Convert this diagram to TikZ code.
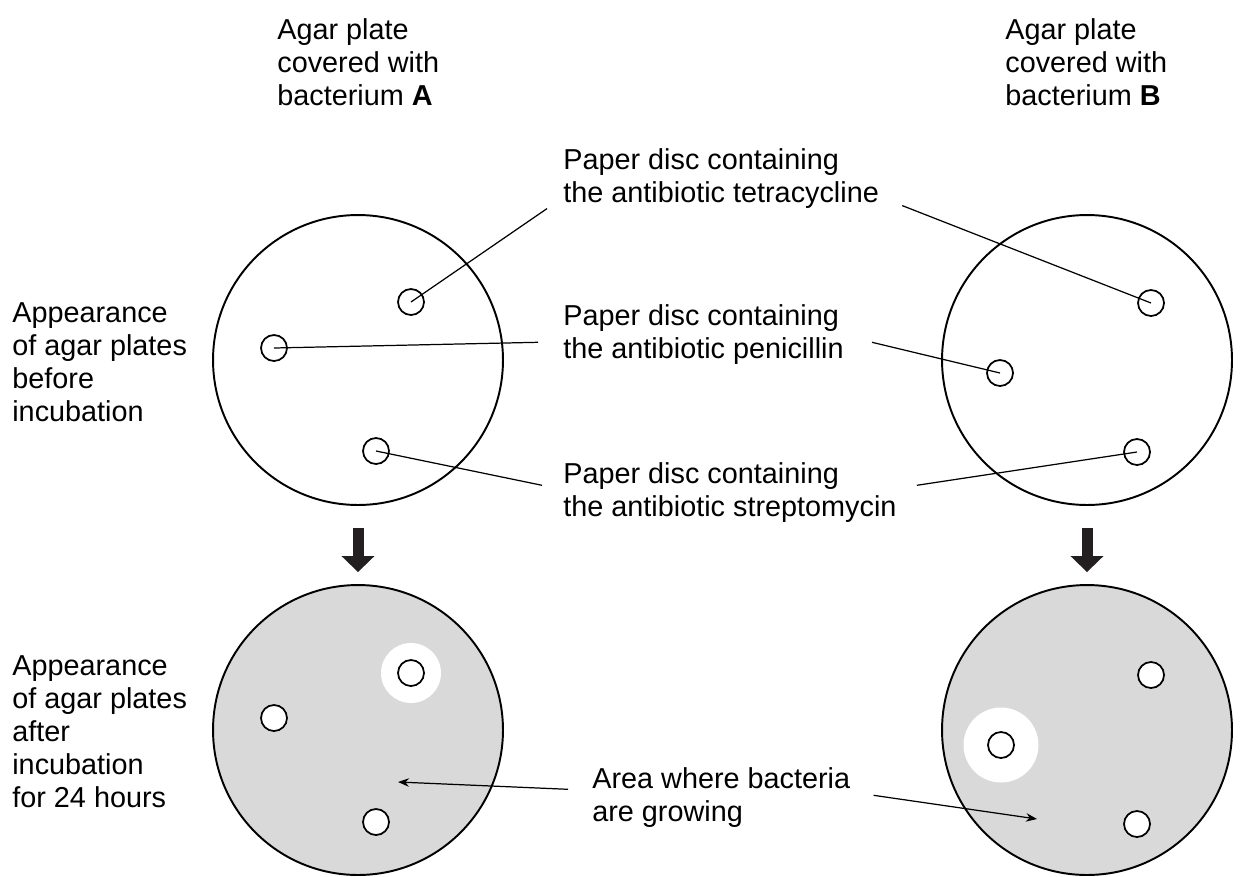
\documentclass[tikz,border=0pt]{standalone}
\usepackage{fontspec}
\setmainfont{Liberation Sans}
\usetikzlibrary{arrows.meta}
\definecolor{agargrey}{HTML}{D9D9D9}
\definecolor{arrowdark}{HTML}{231F20}

\begin{document}
\begin{tikzpicture}[x=0.02cm, y=-0.02cm,
    plate/.style={circle, draw, line width=1.1pt, minimum size=5.8cm, inner sep=0pt},
    disc/.style={circle, draw, line width=1pt, fill=white, minimum size=0.52cm, inner sep=0pt},
    halo/.style={circle, fill=white, inner sep=0pt},
    txt/.style={anchor=north west, align=left, inner sep=0pt, font=\fontsize{16.4}{18.8}\selectfont},
    pointer/.style={line width=0.7pt},
    growth/.style={line width=0.7pt, -{Stealth[length=0.22cm,width=0.17cm]}},
    incubate/.style={line width=0.22cm, arrowdark, -{Triangle[length=0.32cm,width=0.64cm]},
        shorten <=0.44cm, shorten >=0.24cm}]
    \useasboundingbox (0,0) rectangle (1240,876);

    % Draw the plates before and after incubation
    \node[plate] (plateA) at (358,360) {};
    \node[plate] (plateB) at (1087,360) {};
    \node[plate, fill=agargrey] (grownA) at (358,730) {};
    \node[plate, fill=agargrey] (grownB) at (1087,730) {};

    % Draw the clear zones round the discs
    \node[halo, minimum size=1.2cm] (clearA) at ([shift={(53,-57)}]grownA.center) {};
    \node[halo, minimum size=1.5cm] (clearB) at ([shift={(-86,15)}]grownB.center) {};

    % Draw the paper discs
    \node[disc] (tetA) at ([shift={(53,-58)}]plateA.center) {};
    \node[disc] (penA) at ([shift={(-84,-12)}]plateA.center) {};
    \node[disc] (strA) at ([shift={(18,91)}]plateA.center) {};
    \node[disc] (tetB) at ([shift={(64,-57)}]plateB.center) {};
    \node[disc] (penB) at ([shift={(-87,13)}]plateB.center) {};
    \node[disc] (strB) at ([shift={(50,92)}]plateB.center) {};
    \node[disc] (tetA2) at ([shift={(53,-57)}]grownA.center) {};
    \node[disc] (penA2) at ([shift={(-84,-12)}]grownA.center) {};
    \node[disc] (strA2) at ([shift={(18,92)}]grownA.center) {};
    \node[disc] (tetB2) at ([shift={(64,-55)}]grownB.center) {};
    \node[disc] (penB2) at ([shift={(-86,15)}]grownB.center) {};
    \node[disc] (strB2) at ([shift={(50,94)}]grownB.center) {};

    % Draw the labels
    \node[txt] (headA) at (277,18) {Agar plate\\covered with\\bacterium \textbf{A}};
    \node[txt] (headB) at (1005,18) {Agar plate\\covered with\\bacterium \textbf{B}};
    \node[txt] (before) at (12,302) {Appearance\\of agar plates\\before\\incubation};
    \node[txt] (after) at (12,655) {Appearance\\of agar plates\\after\\incubation\\for 24 hours};
    \node[txt] (tetra) at (563,148) {Paper disc containing\\the antibiotic tetracycline};
    \node[txt] (peni) at (563,304) {Paper disc containing\\the antibiotic penicillin};
    \node[txt] (strep) at (563,462) {Paper disc containing\\the antibiotic streptomycin};
    \node[txt] (area) at (592,767) {Area where bacteria\\are growing};

    % Draw the label lines to the discs
    \draw[pointer] (tetA.center) -- ([shift={(-16,0)}]tetra.south west);
    \draw[pointer] (tetB.center) -- ([shift={(23,-3)}]tetra.south east);
    \draw[pointer] (penA.center) -- ([shift={(-25,8)}]peni.west);
    \draw[pointer] (penB.center) -- ([shift={(28,8)}]peni.east);
    \draw[pointer] (strA.center) -- ([shift={(-21,-7)}]strep.west);
    \draw[pointer] (strB.center) -- ([shift={(20,-7)}]strep.east);

    % Draw the arrows to the bacteria
    \coordinate (bactA) at (398,782);
    \coordinate (bactB) at (1037,819);
    \draw[growth] ([shift={(-24,-8)}]area.west) -- (bactA);
    \draw[growth] ([shift={(23,-2)}]area.east) -- (bactB);

    % Draw the incubation arrows
    \draw[incubate] (plateA.south) -- (grownA.north);
    \draw[incubate] (plateB.south) -- (grownB.north);
\end{tikzpicture}
\end{document}
